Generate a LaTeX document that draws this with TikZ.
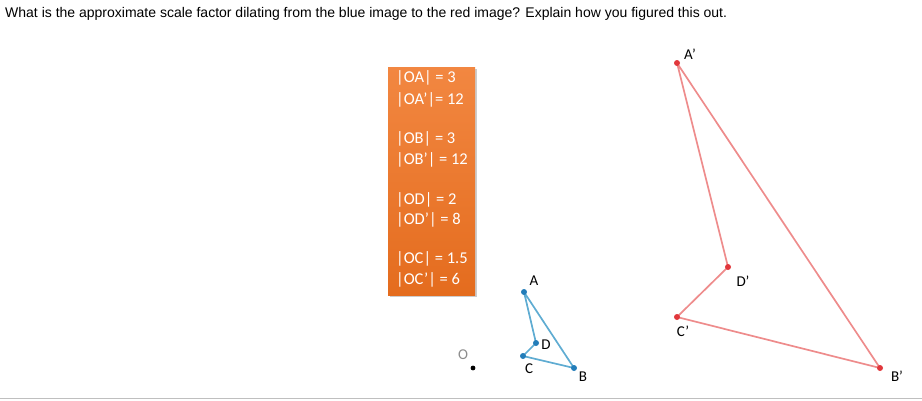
\documentclass[tikz,border=0pt]{standalone}
\usepackage{fontspec}
\setmainfont{Liberation Sans}
\newfontfamily\calfont{Carlito}
\definecolor{ptblue}{RGB}{35,125,185}
\definecolor{lnblue}{RGB}{95,172,210}
\definecolor{ptred}{RGB}{225,55,60}
\definecolor{lnred}{RGB}{238,140,140}
\definecolor{boxtop}{RGB}{242,135,65}
\definecolor{boxbot}{RGB}{228,108,30}
\begin{document}
\begin{tikzpicture}[x=1pt, y=-1pt,
    lbl/.style={inner sep=0pt, font=\calfont\fontsize{15}{15}\selectfont},
    boxline/.style={inner sep=0pt, anchor=west, text=white, font=\calfont\fontsize{16.5}{16.5}\selectfont},
    bline/.style={lnblue, line width=1.7pt, line join=round},
    rline/.style={lnred, line width=1.7pt, line join=round}]
    \useasboundingbox (0,0) rectangle (922,400);
    % question
    \node[anchor=west, inner sep=0pt, font=\fontsize{14}{14}\selectfont] (q) at (5,14) {What is the approximate scale factor dilating from the blue image to the red image? Explain how you figured this out.};
    \draw[black!25, line width=1pt] (0,398.5) -- (922,398.5);
    % orange box
    \fill[black!20] (390,69) rectangle (477,297);
    \shade[top color=boxtop, bottom color=boxbot] (388,67) rectangle (475,295);
    \node[boxline] (t1) at (396,78) {|OA| = 3};
    \node[boxline] (t2) at (396,100) {|OA’|= 12};
    \node[boxline] (t3) at (396,139) {|OB| = 3};
    \node[boxline] (t4) at (396,160) {|OB’| = 12};
    \node[boxline] (t5) at (396,200) {|OD| = 2};
    \node[boxline] (t6) at (396,220) {|OD’| = 8};
    \node[boxline] (t7) at (396,259) {|OC| = 1.5};
    \node[boxline] (t8) at (396,280) {|OC’| = 6};
    % centre O
    \node[lbl, text=black!45] (lO) at (463,355) {O};
    \coordinate (O) at (473,368);
    \fill (O) circle (2.4);
    % blue figure
    \coordinate (A) at (524,292);
    \coordinate (B) at (574,368);
    \coordinate (C) at (523,356);
    \coordinate (D) at (536,343);
    \draw[bline] (A) -- (B) -- (C) -- (D) -- cycle;
    \foreach \p in {A,B,C,D} \fill[ptblue] (\p) circle (3);
    \node[lbl] (lA) at (534,281) {A};
    \node[lbl] (lB) at (583,377) {B};
    \node[lbl] (lC) at (529,369) {C};
    \node[lbl] (lD) at (546,345) {D};
    % red figure
    \coordinate (A') at (677,63);
    \coordinate (B') at (880,368);
    \coordinate (C') at (677,317);
    \coordinate (D') at (728,267);
    \draw[rline] (A') -- (B') -- (C') -- (D') -- cycle;
    \foreach \p in {A',B',C',D'} \fill[ptred] (\p) circle (3);
    \node[lbl] (lA') at (690,54) {A’};
    \node[lbl] (lB') at (897,376) {B’};
    \node[lbl] (lC') at (683,331) {C’};
    \node[lbl] (lD') at (743,281) {D’};
\end{tikzpicture}
\end{document}
